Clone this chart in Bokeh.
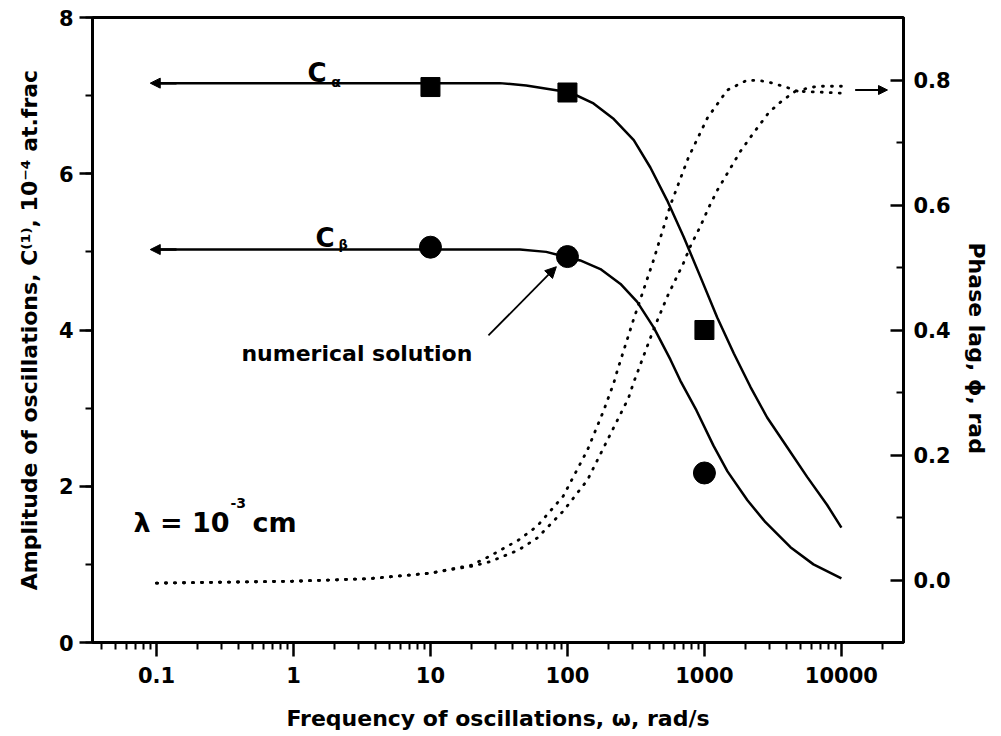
import math
from bokeh.plotting import figure
from bokeh.models import (Range1d, LinearAxis, FixedTicker, CustomJSTickFormatter, Title,
                          NumeralTickFormatter, Arrow, NormalHead, Label, SingleIntervalTicker)
from bokeh.embed import file_html
from bokeh.resources import INLINE

# ---------------- data ----------------
omega_alpha = [0.1, 1, 10, 20, 32, 50, 105, 155, 218, 305, 403, 534, 706, 935, 1240, 1640,
               2170, 2870, 4020, 5620, 7870, 10000]
c_alpha = [7.16, 7.16, 7.16, 7.16, 7.16, 7.13, 7.04, 6.90, 6.70, 6.43, 6.08, 5.66, 5.19, 4.68,
           4.16, 3.70, 3.27, 2.88, 2.50, 2.12, 1.76, 1.47]

omega_beta = [0.1, 1, 10, 45, 70, 95, 124, 174, 244, 323, 427, 565, 668, 875, 1164, 1473, 2060,
              2790, 4245, 6250, 10000]
c_beta = [5.03, 5.03, 5.03, 5.03, 5.00, 4.94, 4.89, 4.78, 4.59, 4.36, 4.03, 3.62, 3.35, 2.97,
          2.52, 2.19, 1.82, 1.54, 1.22, 1.00, 0.82]

omega_num = [10, 100, 1000]
num_alpha = [7.11, 7.04, 4.0]
num_beta = [5.06, 4.94, 2.17]

omega_phase_a = [0.1, 1, 3.5, 10, 20, 27, 44, 60, 93, 140, 183, 217, 232, 303, 424, 565, 764,
                 1050, 1470, 2060, 2800, 3900, 4800, 5650, 6700, 10000]
phase_a = [-0.005, -0.002, 0.002, 0.011, 0.024, 0.038, 0.064, 0.086, 0.134, 0.208, 0.270, 0.314,
           0.336, 0.416, 0.511, 0.600, 0.676, 0.739, 0.784, 0.800, 0.798, 0.789, 0.782, 0.787,
           0.790, 0.790]
omega_phase_b = [0.1, 1, 3.5, 10, 20, 27, 44, 60, 93, 140, 183, 279, 303, 424, 537, 703, 790, 935,
                 1070, 1244, 1376, 1832, 2279, 2930, 3467, 4100, 4615, 6250, 10000]
phase_b = [-0.005, -0.002, 0.002, 0.011, 0.022, 0.029, 0.048, 0.067, 0.110, 0.160, 0.211, 0.291,
           0.315, 0.400, 0.454, 0.507, 0.534, 0.566, 0.595, 0.624, 0.640, 0.686, 0.715, 0.747,
           0.762, 0.774, 0.782, 0.781, 0.779]

x_major = [0.1, 1, 10, 100, 1000, 10000]
y_right_major = [0.0, 0.2, 0.4, 0.6, 0.8]
y_right_minor = [0.1, 0.3, 0.5, 0.7]

FONT = "DejaVu Sans"

p = figure(x_axis_type="log", x_range=Range1d(0.0341, 28400), y_range=Range1d(0, 8),
           frame_width=811, frame_height=625,
           min_border_left=92, min_border_right=97, min_border_top=17, min_border_bottom=92,
           output_backend="svg", toolbar_location=None,
           background_fill_color="white", border_fill_color="white")
p.xgrid.visible = False
p.ygrid.visible = False
p.outline_line_color = "black"
p.outline_line_width = 3
p.outline_line_alpha = 1.0
p.extra_y_ranges = {"phase": Range1d(-0.1, 0.9)}

x_minor = [m * 10.0 ** d for d in range(-2, 5) for m in range(2, 10)]


def style_axis(ax):
    ax.axis_line_width = 3
    ax.axis_line_color = "black"
    ax.major_tick_line_width = 2.5
    ax.major_tick_line_color = "black"
    ax.minor_tick_line_width = 2
    ax.minor_tick_line_color = "black"
    ax.major_label_text_font = FONT
    ax.major_label_text_font_style = "bold"
    ax.major_label_text_font_size = "21px"
    ax.major_label_text_color = "black"
    ax.axis_label_text_font = FONT
    ax.axis_label_text_font_style = "bold"
    ax.axis_label_text_font_size = "22px"
    ax.axis_label_text_color = "black"


xa = p.xaxis[0]
xa.ticker = FixedTicker(ticks=x_major, minor_ticks=x_minor)
xa.formatter = CustomJSTickFormatter(code="return String(tick);")
xa.axis_label = "Frequency of oscillations, \u03c9, rad/s"
style_axis(xa)
xa.major_tick_out = 14
xa.major_tick_in = 0
xa.minor_tick_out = 7
xa.minor_tick_in = 0
xa.major_label_standoff = 10
xa.axis_label_standoff = 20

ya = p.yaxis[0]
ya.ticker = SingleIntervalTicker(interval=2, num_minor_ticks=2)
ya.axis_label = "Amplitude of oscillations, C\u207d\u00b9\u207e, 10\u207b\u2074 at.frac"
style_axis(ya)
ya.major_tick_out = 13
ya.major_tick_in = 0
ya.minor_tick_out = 7
ya.minor_tick_in = 0
ya.major_label_standoff = 6
ya.axis_label_standoff = 14

ra = LinearAxis(y_range_name="phase",
                ticker=FixedTicker(ticks=y_right_major, minor_ticks=y_right_minor),
                formatter=NumeralTickFormatter(format="0.0"))
style_axis(ra)
ra.major_tick_in = 13
ra.major_tick_out = 0
ra.minor_tick_in = 7
ra.minor_tick_out = 0
ra.major_label_standoff = 10
p.add_layout(ra, "right")

p.add_layout(Title(text="Phase lag, \u03d5, rad", align="left", offset=225, standoff=20,
                   text_font=FONT, text_font_style="bold", text_font_size="22px",
                   text_color="black"), "right")

# curves
p.line(omega_alpha, c_alpha, line_width=2.5, color="black")
p.line(omega_beta, c_beta, line_width=2.5, color="black")
p.line(omega_phase_a, phase_a, y_range_name="phase", line_width=2.8, line_dash="1 8",
       line_cap="round", color="black")
p.line(omega_phase_b, phase_b, y_range_name="phase", line_width=2.8, line_dash="1 8",
       line_cap="round", color="black")

# numerical solution markers
p.scatter(omega_num, num_alpha, marker="square", size=19, color="black")
p.scatter(omega_num, num_beta, marker="circle", size=22, color="black")


def head(s):
    return NormalHead(size=s, fill_color="black", line_color="black", line_width=1)


p.add_layout(Arrow(end=head(10), x_start=0.14, y_start=c_alpha[0], x_end=0.09, y_end=c_alpha[0],
                   line_width=2.5, line_color="black"))
p.add_layout(Arrow(end=head(10), x_start=0.14, y_start=c_beta[0], x_end=0.09, y_end=c_beta[0],
                   line_width=2.5, line_color="black"))
p.add_layout(Arrow(end=head(11), x_start=26.5, y_start=3.93, x_end=83, y_end=4.81,
                   line_width=1.8, line_color="black"))
p.add_layout(Arrow(end=head(9), x_start=12600, y_start=0.784, x_end=21700, y_end=0.784,
                   y_range_name="phase", line_width=1.8, line_color="black"))


def lab(x, y, text, size):
    p.add_layout(Label(x=x, y=y, text=text, text_font=FONT, text_font_style="bold",
                       text_font_size=size, text_color="black", text_align="left",
                       text_baseline="alphabetic"))


lab(1.265, 7.296, "C", "26px")
lab(1.89, 7.17, "\u03b1", "14px")
lab(1.447, 5.18, "C", "26px")
lab(2.13, 5.09, "\u03b2", "13px")
lab(0.417, 3.70, "numerical solution", "22px")
lab(0.068, 1.536, "\u03bb = 10", "27px")
lab(0.347, 1.78, "-3", "14px")
lab(0.502, 1.536, "cm", "27px")

with open("out.html", "w") as f:
    f.write(file_html(p, INLINE))
